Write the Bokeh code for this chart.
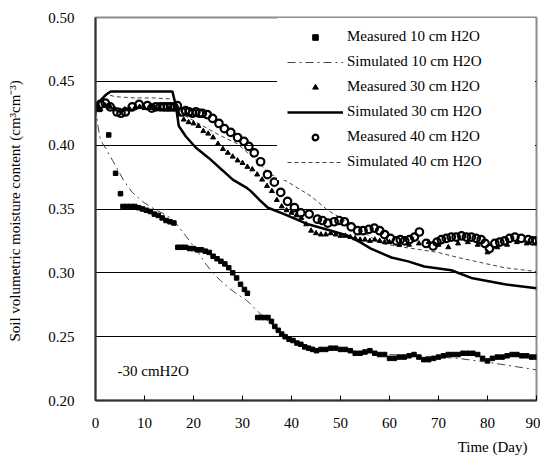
from bokeh.plotting import figure
from bokeh.models import (Range1d, FixedTicker, Legend, LegendItem, Label,
                          NumeralTickFormatter, Title)
from bokeh.embed import file_html
from bokeh.resources import INLINE

FONT = "Liberation Serif"

# ---------------- data ----------------
x_ticks = [0, 10, 20, 30, 40, 50, 60, 70, 80, 90]
y_ticks = [0.20, 0.25, 0.30, 0.35, 0.40, 0.45, 0.50]
grid_levels = [0.25, 0.30, 0.35, 0.40, 0.45]

# Measured 10 cm H2O (filled squares)
m10_day = [0, 0.8, 2.7, 4.1, 5.1, 5.6, 6.4, 7.2, 8.0, 8.8, 9.6, 10.4, 11.2, 12.0,
           12.8, 13.6, 14.4, 15.2, 16.0, 16.8, 17.6, 18.4, 19.2, 20.0, 20.8, 21.6,
           22.4, 23.2, 24.0, 24.8, 25.6, 26.4, 27.2, 28.0, 28.8, 29.6, 30.4, 31.0,
           33.1, 33.8, 34.5, 35.2, 35.9, 36.6, 37.3, 38.0, 38.7, 39.5, 40.3, 41.1,
           41.9, 42.7, 43.5, 44.3, 45.1, 46, 47, 48, 49, 50, 51, 52, 53, 54, 55,
           56, 57, 58, 59, 60, 61, 62, 63, 64, 65, 66, 67, 68, 69, 70, 71, 72, 73,
           74, 75, 76, 77, 78, 79, 80, 81, 82, 83, 84, 85, 86, 87, 88, 89, 90]
m10_val = [0.430, 0.428, 0.408, 0.378, 0.362, 0.352, 0.352, 0.352, 0.352, 0.351,
           0.350, 0.349, 0.348, 0.346, 0.345, 0.343, 0.341, 0.340, 0.339, 0.320,
           0.320, 0.320, 0.319, 0.319, 0.318, 0.318, 0.317, 0.316, 0.313, 0.311,
           0.309, 0.307, 0.304, 0.300, 0.296, 0.291, 0.287, 0.284, 0.265, 0.265,
           0.265, 0.265, 0.262, 0.258, 0.255, 0.252, 0.250, 0.248, 0.247, 0.245,
           0.244, 0.242, 0.241, 0.240, 0.239, 0.240, 0.240, 0.241, 0.241, 0.240,
           0.240, 0.239, 0.237, 0.237, 0.238, 0.239, 0.237, 0.236, 0.236, 0.233,
           0.233, 0.234, 0.234, 0.235, 0.236, 0.234, 0.232, 0.232, 0.233, 0.234,
           0.235, 0.236, 0.236, 0.236, 0.237, 0.237, 0.237, 0.236, 0.233, 0.231,
           0.233, 0.234, 0.234, 0.235, 0.236, 0.236, 0.235, 0.235, 0.234, 0.234]

# Simulated 10 cm H2O (thin dash-dot)
s10_day = [0, 0.5, 1.0, 2.0, 3.5, 5.8, 7.5, 9.9, 12, 14, 15.7, 17, 18.4, 19.8,
           21.1, 22.5, 23.9, 25.5, 27.3, 29, 30.7, 32, 33.3, 35, 37, 39, 41, 44,
           48, 52, 56, 60, 65, 70, 74, 80, 85, 90]
s10_val = [0.430, 0.415, 0.404, 0.398, 0.388, 0.372, 0.363, 0.355, 0.350, 0.346,
           0.342, 0.336, 0.329, 0.322, 0.315, 0.307, 0.300, 0.294, 0.288, 0.283,
           0.279, 0.274, 0.269, 0.263, 0.256, 0.250, 0.246, 0.242, 0.240, 0.238,
           0.237, 0.236, 0.235, 0.234, 0.233, 0.230, 0.227, 0.224]

# Measured 30 cm H2O (small triangles)
m30_day = [0, 1, 2, 3, 4, 5, 6, 7, 8, 9, 10, 11, 12, 13, 14, 15, 16, 17, 18, 19,
           20, 21, 22, 23, 24, 25, 26, 27, 28, 29, 30, 31, 32, 33, 34, 35, 36, 37,
           38, 39, 40, 41, 42, 43, 44, 45, 46, 47, 48, 49, 50, 51, 52, 53, 54, 55,
           56, 57, 58, 59, 60, 62, 64, 66, 68, 70, 72, 74, 76, 78, 80, 82, 84, 86,
           88, 90]
m30_val = [0.430, 0.428, 0.431, 0.430, 0.428, 0.427, 0.428, 0.428, 0.429, 0.430,
           0.429, 0.429, 0.429, 0.429, 0.428, 0.428, 0.428, 0.424, 0.420, 0.418,
           0.417, 0.415, 0.411, 0.409, 0.406, 0.401, 0.397, 0.394, 0.391, 0.388,
           0.386, 0.383, 0.381, 0.377, 0.373, 0.368, 0.364, 0.357, 0.352, 0.349,
           0.347, 0.345, 0.343, 0.338, 0.333, 0.331, 0.330, 0.330, 0.331, 0.330,
           0.329, 0.329, 0.328, 0.327, 0.326, 0.326, 0.325, 0.326, 0.325, 0.324,
           0.324, 0.322, 0.322, 0.323, 0.324, 0.322, 0.320, 0.323, 0.324, 0.322,
           0.316, 0.320, 0.322, 0.324, 0.323, 0.323]

# Simulated 30 cm H2O (thick solid)
s30_day = [0, 0.6, 1.5, 2.3, 3.1, 6, 9, 12, 15.7, 16.4, 17.0, 18.4, 20.5, 23.1,
           26.0, 28.0, 30.7, 31.7, 33.5, 35.2, 38.5, 43.4, 48.1, 51.5, 54, 56.2,
           60.4, 63.8, 67.1, 72.6, 76.7, 83.5, 90]
s30_val = [0.430, 0.433, 0.437, 0.440, 0.442, 0.442, 0.442, 0.442, 0.442, 0.431,
           0.415, 0.407, 0.398, 0.390, 0.380, 0.373, 0.367, 0.364, 0.357, 0.351,
           0.346, 0.338, 0.333, 0.329, 0.324, 0.319, 0.312, 0.309, 0.305, 0.302,
           0.296, 0.291, 0.288]

# Measured 40 cm H2O (open circles)
m40_day = [0, 1, 2, 3, 4.4, 5.2, 6.1, 7.5, 8.9, 10.6, 11.5, 12.3, 13.2, 14, 14.7,
           15.3, 16, 16.7, 17.7, 18.4, 19.1, 19.8, 20.5, 21.2, 21.8, 22.8, 23.9,
           25.2, 26.3, 27.6, 29.0, 30.3, 31.3, 32.4, 33.7, 35.1, 36.5, 37.8, 39.2,
           40.6, 41.9, 43.6, 45.3, 46.3, 47.4, 48.7, 49.7, 50.8, 52.2, 53.5, 54.6,
           55.8, 56.9, 58, 59.0, 60.2, 61.4, 62.2, 63.1, 64.1, 65.1, 66.1, 67.5,
           68.9, 69.7, 70.6, 71.6, 72.6, 73.6, 74.7, 75.7, 76.7, 77.7, 78.7, 79.5,
           80.4, 81.5, 82.5, 83.5, 84.5, 85.6, 86.9, 88.3, 89.2, 90]
m40_val = [0.430, 0.432, 0.433, 0.430, 0.426, 0.425, 0.426, 0.430, 0.432, 0.431,
           0.429, 0.430, 0.430, 0.430, 0.430, 0.430, 0.430, 0.431, 0.426, 0.427,
           0.426, 0.425, 0.426, 0.425, 0.425, 0.424, 0.421, 0.417, 0.413, 0.410,
           0.406, 0.403, 0.399, 0.394, 0.387, 0.377, 0.371, 0.363, 0.356, 0.351,
           0.347, 0.346, 0.342, 0.341, 0.339, 0.340, 0.341, 0.340, 0.336, 0.333,
           0.333, 0.334, 0.335, 0.333, 0.330, 0.327, 0.325, 0.326, 0.325, 0.326,
           0.328, 0.332, 0.323, 0.321, 0.324, 0.326, 0.327, 0.328, 0.328, 0.329,
           0.328, 0.328, 0.327, 0.326, 0.323, 0.319, 0.323, 0.324, 0.325, 0.327,
           0.328, 0.327, 0.326, 0.325, 0.325]

# Simulated 40 cm H2O (thin dashed)
s40_day = [0, 0.8, 2.0, 4, 8, 12, 16, 17.8, 21, 25.2, 29.0, 32.5, 35.8, 38.9,
           44.0, 47.4, 52.2, 55, 58.3, 63, 69.9, 74.0, 78.7, 83.5, 90]
s40_val = [0.430, 0.435, 0.440, 0.438, 0.437, 0.437, 0.436, 0.424, 0.417, 0.408,
           0.401, 0.389, 0.377, 0.372, 0.360, 0.349, 0.338, 0.331, 0.323, 0.320,
           0.316, 0.312, 0.308, 0.304, 0.301]

legend_labels = ["Measured 10 cm H2O", "Simulated 10 cm H2O",
                 "Measured 30 cm H2O", "Simulated 30 cm H2O",
                 "Measured 40 cm H2O", "Simulated 40 cm H2O"]
note_text = "-30 cmH2O"
x_title = "Time (Day)"
y_title = "Soil volumetric moisture content  (cm\u00b3cm\u207b\u00b3)"

# ---------------- figure ----------------
p = figure(frame_width=441, frame_height=383,
           x_range=Range1d(0, 90), y_range=Range1d(0.20, 0.50),
           output_backend="svg", toolbar_location=None,
           min_border_left=95, min_border_top=17, min_border_right=4,
           min_border_bottom=0)
p.background_fill_color = "white"
p.border_fill_color = "white"
p.outline_line_color = "#8c8c8c"
p.outline_line_width = 2

# grid
p.xgrid.visible = False
p.ygrid.ticker = FixedTicker(ticks=grid_levels)
p.ygrid.grid_line_color = "black"
p.ygrid.grid_line_width = 1

# axes
for ax in (p.xaxis[0], p.yaxis[0]):
    ax.axis_line_color = "#333333"
    ax.axis_line_width = 2
    ax.minor_tick_line_color = None
    ax.major_label_text_font = FONT
    ax.major_label_text_font_size = "15px"
    ax.major_label_text_color = "black"
    ax.axis_label_text_font = FONT
    ax.axis_label_text_font_size = "15px"
    ax.axis_label_text_font_style = "normal"
    ax.axis_label_text_color = "black"

xa = p.xaxis[0]
xa.ticker = FixedTicker(ticks=x_ticks)
xa.major_tick_in = 5
xa.major_tick_out = 0
xa.major_tick_line_color = "black"
xa.major_label_standoff = 17

ya = p.yaxis[0]
ya.ticker = FixedTicker(ticks=y_ticks)
ya.formatter = NumeralTickFormatter(format="0.00")
ya.major_tick_in = 0
ya.major_tick_out = 0
ya.major_label_standoff = 21
ya.axis_label = y_title
ya.axis_label_standoff = 22

# x-axis title, right-aligned under the end of the axis
p.add_layout(Title(text=x_title, align="right", offset=9, standoff=13,
                   text_font=FONT, text_font_size="15px",
                   text_font_style="normal", text_color="black"), "below")

# series
r_s10 = p.line(s10_day, s10_val, line_color="#444444", line_width=1,
               line_dash="8 4 2 4")
r_s40 = p.line(s40_day, s40_val, line_color="#444444", line_width=1,
               line_dash="4 3")
r_s30 = p.line(s30_day, s30_val, line_color="black", line_width=2.5)
r_m10 = p.scatter(m10_day, m10_val, marker="square", size=4.5,
                  fill_color="black", line_color="black")
r_m30 = p.scatter(m30_day, m30_val, marker="triangle", size=5,
                  fill_color="black", line_color="black")
r_m40 = p.scatter(m40_day, m40_val, marker="circle", size=7.5, line_width=2.2,
                  fill_color=None, line_color="black")

legend = Legend(
    items=[LegendItem(label=legend_labels[0], renderers=[r_m10]),
           LegendItem(label=legend_labels[1], renderers=[r_s10]),
           LegendItem(label=legend_labels[2], renderers=[r_m30]),
           LegendItem(label=legend_labels[3], renderers=[r_s30]),
           LegendItem(label=legend_labels[4], renderers=[r_m40]),
           LegendItem(label=legend_labels[5], renderers=[r_s40])],
    location=(182, 220), padding=10, spacing=8, margin=0,
    glyph_height=14, glyph_width=56, label_height=14, label_standoff=4,
    label_width=178,
    label_text_font=FONT, label_text_font_size="15px",
    label_text_color="black",
    background_fill_color="white", background_fill_alpha=1.0,
    border_line_alpha=0)
p.add_layout(legend)

p.add_layout(Label(x=4.5, y=0.2229, text=note_text, text_font=FONT,
                   text_font_size="15px", text_baseline="middle",
                   text_color="black"))

open("out.html", "w").write(file_html(p, INLINE))
